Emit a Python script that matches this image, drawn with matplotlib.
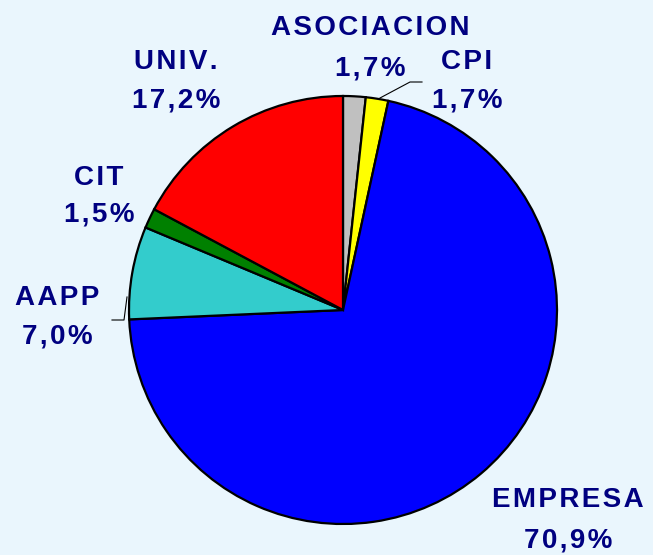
import numpy as np
import matplotlib
matplotlib.use('Agg')
import matplotlib.pyplot as plt

# data, clockwise from the top
labels = ['ASOCIACION', 'CPI', 'EMPRESA', 'AAPP', 'CIT', 'UNIV.']
values = [1.7, 1.7, 70.9, 7.0, 1.5, 17.2]
pct_text = ['1,7%', '1,7%', '70,9%', '7,0%', '1,5%', '17,2%']
colors = ['#C0C0C0', '#FFFF00', '#0000FF', '#33CCCC', '#008000', '#FF0000']

W, H = 653, 555
cx, cy, r = 343, 310, 214

def to_data(px, py):
    return (px - cx) / r, (cy - py) / r

def spaced(s):
    # loose tracking like the original
    return '\u200a'.join(s)

# label line centres in pixels: (x, y of name, y of percent)
label_pos = [(370, 28, 68), (467, 62, 100), (568, 500, 540),
             (57, 298, 336), (99, 178, 215), (176, 62, 100)]

bg = '#EAF6FD'
fig = plt.figure(figsize=(W / 100, H / 100), dpi=100, facecolor=bg)
ax = fig.add_axes([(cx - r) / W, (H - cy - r) / H, 2 * r / W, 2 * r / H])
ax.set_facecolor(bg)

ax.pie(values, colors=colors, startangle=90, counterclock=False, radius=1,
       wedgeprops=dict(edgecolor='black', linewidth=1.6))
ax.set_xlim(-1, 1)
ax.set_ylim(-1, 1)
ax.set_aspect('equal')
ax.axis('off')

style = dict(ha='center', va='center', color='#000080', fontsize=20,
             fontweight='bold', family=['Liberation Sans', 'DejaVu Sans'],
             clip_on=False)
for lab, pct, (px, py1, py2) in zip(labels, pct_text, label_pos):
    x, y = to_data(px, py1)
    ax.text(x, y, spaced(lab), **style)
    x, y = to_data(px, py2)
    ax.text(x, y, spaced(pct), **style)

# leader lines
for pts in [[(380, 98), (410, 82), (422, 82)],
            [(127, 297), (124, 320), (112, 320)]]:
    xs, ys = zip(*[to_data(px, py) for px, py in pts])
    ax.plot(xs, ys, color='black', linewidth=0.8, clip_on=False)

fig.savefig('out.png', dpi=100, facecolor=bg)
